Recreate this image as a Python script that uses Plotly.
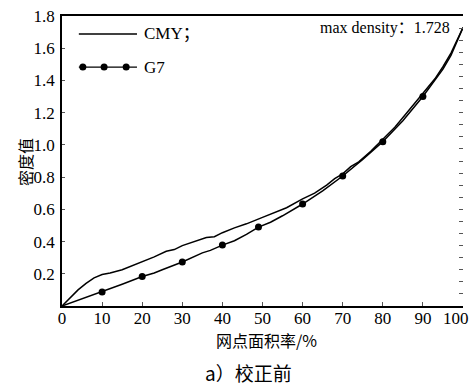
import plotly.graph_objects as go

# CMY curve (dot area %, density)
cmy_x = [0, 2, 4, 6, 8, 10, 12, 15, 18, 20, 23, 26, 28, 30, 33, 36, 38, 40, 43, 46,
         50, 53, 56, 60, 63, 66, 68, 70, 72, 74, 77, 80, 83, 86, 90, 93, 95, 97, 100]
cmy_y = [0, 0.05, 0.10, 0.14, 0.175, 0.195, 0.205, 0.225, 0.255, 0.275, 0.305, 0.34,
         0.35, 0.375, 0.40, 0.425, 0.43, 0.455, 0.485, 0.51, 0.55, 0.58, 0.61, 0.665,
         0.70, 0.75, 0.79, 0.82, 0.865, 0.895, 0.96, 1.035, 1.11, 1.20, 1.32, 1.41,
         1.485, 1.57, 1.728]

# G7 curve
g7_x = [0, 5, 10, 15, 20, 23, 25, 30, 35, 37, 40, 43, 46, 49, 52, 55, 60, 65, 70,
        75, 80, 85, 90, 93, 95, 97, 100]
g7_y = [0, 0.045, 0.087, 0.135, 0.183, 0.205, 0.225, 0.273, 0.33, 0.345, 0.378,
        0.405, 0.445, 0.49, 0.52, 0.56, 0.633, 0.715, 0.807, 0.91, 1.02, 1.15, 1.30,
        1.40, 1.47, 1.555, 1.728]

# G7 marker points
g7_mx = [10, 20, 30, 40, 49, 60, 70, 80, 90]
g7_my = [0.087, 0.183, 0.273, 0.378, 0.49, 0.633, 0.807, 1.02, 1.30]

x_ticks = [0, 10, 20, 30, 40, 50, 60, 70, 80, 90, 100]
x_tick_text = ["0", "10", "20", "30", "40", "50", "60", "70", "80", "90", ""]
x_last_label = "100"
y_ticks = [0.2, 0.4, 0.6, 0.8, 1.0, 1.2, 1.4, 1.6, 1.8]
y_tick_text = ["0.2", "0.4", "0.6", "0.8", "1.0", "1.2", "1.4", "1.6", "1.8"]

SERIF = "Liberation Serif"
CJK = "Noto Sans CJK SC"

fig = go.Figure()
fig.add_trace(go.Scatter(x=cmy_x, y=cmy_y, mode="lines",
                         line=dict(color="black", width=1.5), name="CMY"))
fig.add_trace(go.Scatter(x=g7_x, y=g7_y, mode="lines",
                         line=dict(color="black", width=1.5), name="G7"))
fig.add_trace(go.Scatter(x=g7_mx, y=g7_my, mode="markers",
                         marker=dict(color="black", size=7), name="G7 pts"))
# invisible trace for right axis
fig.add_trace(go.Scatter(x=[0], y=[0], yaxis="y2", mode="markers",
                         marker=dict(opacity=0), hoverinfo="skip"))

fig.update_layout(
    width=472, height=385,
    margin=dict(l=62, r=9, t=16, b=79),
    paper_bgcolor="white", plot_bgcolor="white",
    showlegend=False,
    font=dict(family=SERIF, size=16, color="black"),
    xaxis=dict(range=[0, 100], tickvals=x_ticks, ticktext=x_tick_text,
               ticks="inside", ticklen=4,
               tickcolor="#555", showgrid=False, zeroline=False,
               showline=True, linecolor="black", linewidth=1.5, mirror=True,
               tickfont=dict(family=SERIF, size=17), automargin=False,
               ticklabeloverflow="allow", ticklabelstandoff=-4),
    yaxis=dict(range=[0, 1.8], tickvals=y_ticks, ticktext=y_tick_text,
               ticks="inside", ticklen=3, tickcolor="#555", showgrid=False,
               zeroline=False, showline=True, linecolor="black", linewidth=1.5,
               tickfont=dict(family=SERIF, size=17), ticklabelstandoff=2,
               automargin=False),
    yaxis2=dict(range=[0, 1.8], overlaying="y", side="right", dtick=0.075,
                ticks="inside", ticklen=4, tickcolor="#555", showticklabels=False,
                showgrid=False, zeroline=False, showline=False, automargin=False),
)

# last x tick label, nudged inside the page like the reference
fig.add_annotation(xref="x", yref="paper", x=x_ticks[-1], y=0, text=x_last_label,
                   showarrow=False, xanchor="right", yanchor="middle",
                   xshift=8, yshift=-12, font=dict(family=SERIF, size=17))

# Legend drawn manually
fig.add_shape(type="line", xref="paper", yref="paper", x0=0.042, x1=0.187,
              y0=0.938, y1=0.938, line=dict(color="black", width=1.3))
fig.add_shape(type="line", xref="paper", yref="paper", x0=0.042, x1=0.187,
              y0=0.824, y1=0.824, line=dict(color="black", width=1.3))
for mx in [0.052, 0.105, 0.160]:
    fig.add_shape(type="circle", xref="paper", yref="paper", xsizemode="pixel",
                  ysizemode="pixel", xanchor=mx, yanchor=0.824,
                  x0=-3.5, x1=3.5, y0=-3.5, y1=3.5,
                  fillcolor="black", line=dict(color="black", width=0))
fig.add_annotation(xref="paper", yref="paper", x=0.200, y=0.938, text="CMY；",
                   showarrow=False, xanchor="left", yanchor="middle",
                   font=dict(family=SERIF + ", " + CJK, size=17))
fig.add_annotation(xref="paper", yref="paper", x=0.200, y=0.824, text="G7",
                   showarrow=False, xanchor="left", yanchor="middle",
                   font=dict(family=SERIF, size=17))

fig.add_annotation(xref="paper", yref="paper", x=0.972, y=0.959,
                   text="max density：1.728", showarrow=False,
                   xanchor="right", yanchor="middle",
                   font=dict(family=SERIF + ", " + CJK, size=16))

fig.add_annotation(xref="paper", yref="paper", x=-0.092, y=0.497, text="密度值",
                   showarrow=False, textangle=-90, xanchor="center",
                   yanchor="middle", font=dict(family=CJK, size=16))
fig.add_annotation(xref="paper", yref="paper", x=0.511, y=-0.117,
                   text="网点面积率/%", showarrow=False, xanchor="center",
                   yanchor="middle", font=dict(family=CJK, size=16))
fig.add_annotation(xref="paper", yref="paper", x=0.466, y=-0.228,
                   text="a）校正前", showarrow=False, xanchor="center",
                   yanchor="middle", font=dict(family=CJK + ", " + SERIF, size=19))

fig.write_html("out.html", post_script="document.body.style.margin='0';",
               config={"displayModeBar": False})
